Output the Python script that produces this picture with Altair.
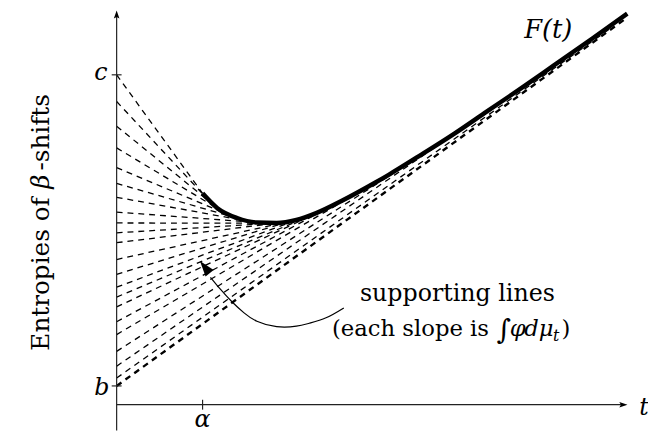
import altair as alt
import pandas as pd

# ---- data (t: horizontal units, y: entropy units) ----
curve_t = [0.87, 1.02, 1.22, 1.42, 1.62, 1.82, 2.02, 2.29, 2.62, 2.75, 3.09, 3.42, 3.75, 4.09, 4.42, 4.82, 5.17]
curve_F = [2.14, 1.99, 1.89, 1.845, 1.84, 1.87, 1.94, 2.07, 2.25, 2.325, 2.535, 2.745, 2.97, 3.20, 3.43, 3.71, 3.96]

line_intercepts = [3.34, 3.07, 2.82, 2.60, 2.40, 2.24, 2.10, 1.95, 1.84, 1.74, 1.64,
                   1.47, 1.32, 1.19, 1.09, 0.99, 0.84, 0.71, 0.54, 0.39, 0.27]
line_end_t = [0.87, 0.945, 1.01, 1.10, 1.20, 1.285, 1.365, 1.46, 1.545, 1.62, 1.71,
              1.86, 1.99, 2.13, 2.24, 2.37, 2.62, 2.94, 3.37, 4.0, 5.0]
line_end_y = [2.14, 2.055, 2.00, 1.94, 1.895, 1.87, 1.852, 1.842, 1.838, 1.84, 1.849,
              1.88, 1.93, 1.985, 2.03, 2.10, 2.25, 2.44, 2.71, 3.14, 3.81]

asym_intercept = 0.19
asym_end_t = 5.17
asym_end_y = 3.92

arc_t = [2.30, 2.12, 1.95, 1.82, 1.62, 1.42, 1.29, 1.17, 1.05, 0.95]
arc_y = [0.98, 0.88, 0.825, 0.795, 0.79, 0.845, 0.93, 1.04, 1.17, 1.29]

c_value = 3.34
b_value = 0.19
alpha_value = 0.87

X_DOMAIN = [-1.10, 5.38]
Y_DOMAIN = [-0.26, 3.99]

xs = alt.Scale(domain=X_DOMAIN, nice=False, zero=False)
ys = alt.Scale(domain=Y_DOMAIN, nice=False, zero=False)

SERIF = "DejaVu Serif"


def enc(**kw):
    d = dict(x=alt.X("t:Q", scale=xs, axis=None), y=alt.Y("y:Q", scale=ys, axis=None))
    d.update(kw)
    return d


# supporting lines
rows = []
for i, (a, et, ey) in enumerate(zip(line_intercepts, line_end_t, line_end_y)):
    rows.append({"line": i, "t": 0.0, "y": a})
    rows.append({"line": i, "t": et, "y": ey})
lines = alt.Chart(pd.DataFrame(rows)).mark_line(
    color="black", strokeWidth=1.3, strokeDash=[6, 5]
).encode(**enc(detail="line:N"))

asym = alt.Chart(pd.DataFrame({"t": [0.0, asym_end_t], "y": [asym_intercept, asym_end_y]})).mark_line(
    color="black", strokeWidth=2.4, strokeDash=[6, 5]
).encode(**enc())

curve = alt.Chart(pd.DataFrame({"t": curve_t, "y": curve_F})).mark_line(
    color="black", strokeWidth=4.5, interpolate="monotone", strokeCap="butt"
).encode(**enc())

# axes
axes_df = pd.DataFrame({
    "t": [0.0, 0.0, -0.05, -0.05, alpha_value],
    "y": [-0.26, 0.0, c_value, b_value, -0.05],
    "t2": [0.0, 5.12, 0.05, 0.05, alpha_value],
    "y2": [3.93, 0.0, c_value, b_value, 0.05],
})
axes = alt.Chart(axes_df).mark_rule(color="#222", strokeWidth=1.2).encode(
    **enc(x2=alt.X2("t2:Q"), y2=alt.Y2("y2:Q"))
)

ARROW = "M0,-1 L0.6,0.75 L0,0.4 L-0.6,0.75 Z"
up_arrow = alt.Chart(pd.DataFrame({"t": [0.0], "y": [3.945]})).mark_point(
    shape=ARROW, filled=True, color="black", size=90, opacity=1, strokeWidth=0
).encode(**enc())
right_arrow = alt.Chart(pd.DataFrame({"t": [5.125], "y": [0.0]})).mark_point(
    shape=ARROW, filled=True, color="black", size=90, opacity=1, strokeWidth=0, angle=90
).encode(**enc())

# annotation arrow
arc = alt.Chart(pd.DataFrame({"t": arc_t, "y": arc_y})).mark_line(
    color="black", strokeWidth=1.2, interpolate="natural"
).encode(**enc())
arc_head = alt.Chart(pd.DataFrame({"t": [0.895], "y": [1.39]})).mark_point(
    shape="M0,-1 L0.62,0.9 L-0.62,0.9 Z", filled=True, color="black", size=280, opacity=1,
    strokeWidth=0, angle=322
).encode(**enc())


def txt(t, y, s, align="center", italic=False, size=24, angle=0, baseline="alphabetic"):
    df = pd.DataFrame({"t": [t], "y": [y], "label": [s]})
    kw = dict(font=SERIF, fontSize=size, align=align, baseline=baseline, color="black")
    if italic:
        kw["fontStyle"] = "italic"
    if angle:
        kw["angle"] = angle
    return alt.Chart(df).mark_text(**kw).encode(**enc(text="label:N"))


texts = [
    txt(-0.16, 3.29, "c", italic=True),
    txt(-0.15, 0.10, "b", italic=True),
    txt(alpha_value, -0.23, "α", italic=True),
    txt(5.34, -0.10, "t", italic=True),
    txt(4.37, 3.71, "F(t)", italic=True, size=26),
    txt(3.45, 1.05, "supporting lines"),
    txt(3.77, 0.70, "(each slope is", align="right", size=23),
    txt(3.92, 0.665, "∫", size=28),
    txt(4.06, 0.70, "φ", italic=True, size=23),
    txt(4.275, 0.70, "dμ", italic=True, size=23),
    txt(4.45, 0.65, "t", italic=True, size=16),
    txt(4.55, 0.70, ")", size=23),
    txt(-0.68, 2.10, "Entropies of", align="right", angle=270, size=25),
    txt(-0.68, 2.26, "β", italic=True, angle=270, size=25),
    txt(-0.68, 2.37, "-shifts", align="left", angle=270, size=25),
]

chart = alt.layer(lines, asym, curve, axes, up_arrow, right_arrow, arc, arc_head, *texts).properties(
    width=648, height=425,
    autosize=alt.AutoSizeParams(type="none"),
    padding={"left": 0, "top": 0, "right": 0, "bottom": 0},
).configure_view(stroke=None)

chart.save("out.html", embed_options={"renderer": "svg", "actions": False})
